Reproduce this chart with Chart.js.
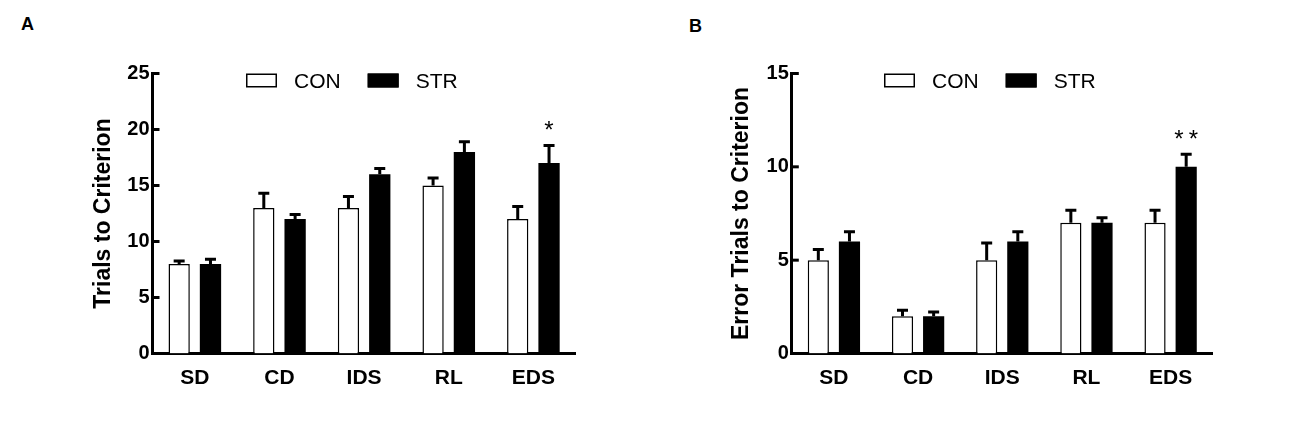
<!DOCTYPE html>
<html>
<head>
<meta charset="utf-8">
<script src="https://cdn.jsdelivr.net/npm/chart.js@4.4.1/dist/chart.umd.min.js"></script>
<style>
  html, body { margin: 0; padding: 0; background: #fff; }
  body { width: 1300px; height: 428px; position: relative; overflow: hidden; }
  .panel { position: absolute; top: 0; width: 650px; height: 428px; }
  .tag { position: absolute; font: bold 18px "Liberation Sans", Arial, sans-serif; color: #000; }
</style>
</head>
<body>
<div class="tag" style="left:21px;top:14px;">A</div>
<div class="tag" style="left:689px;top:16px;">B</div>
<div class="panel" style="left:0px;"><canvas id="chartA"></canvas></div>
<div class="panel" style="left:650px;"><canvas id="chartB"></canvas></div>
<script>
const categories = ['SD', 'CD', 'IDS', 'RL', 'EDS'];
const seriesNames = ['CON', 'STR'];

// panel A: trials to criterion
const trialsCon = [8, 13, 13, 15, 12];
const trialsConErr = [0.4, 1.45, 1.15, 0.8, 1.25];
const trialsStr = [8, 12, 16, 18, 17];
const trialsStrErr = [0.55, 0.55, 0.65, 1.05, 1.7];
const trialsStars = ['', '', '', '', '*'];
const trialsTicks = [0, 5, 10, 15, 20, 25];

// panel B: error trials to criterion
const errorsCon = [5, 2, 5, 7, 7];
const errorsConErr = [0.65, 0.4, 1.0, 0.75, 0.75];
const errorsStr = [6, 2, 6, 7, 10];
const errorsStrErr = [0.6, 0.3, 0.6, 0.35, 0.75];
const errorsStars = ['', '', '', '', '**'];
const errorsTicks = [0, 5, 10, 15];

const FONT = '"Liberation Sans", Arial, Helvetica, sans-serif';

// upper error bars + significance stars
const errorBars = {
    id: 'errorBars',
    afterDatasetsDraw(chart) {
        const ctx = chart.ctx;
        const y = chart.scales.y;
        ctx.save();
        chart.data.datasets.forEach((ds, i) => {
            const meta = chart.getDatasetMeta(i);
            meta.data.forEach((bar, j) => {
                const top = y.getPixelForValue(ds.data[j] + ds.errors[j]);
                ctx.strokeStyle = '#000';
                ctx.lineWidth = 3;
                ctx.beginPath();
                ctx.moveTo(bar.x, bar.y);
                ctx.lineTo(bar.x, top);
                ctx.moveTo(bar.x - 5.5, top + 1.5);
                ctx.lineTo(bar.x + 5.5, top + 1.5);
                ctx.stroke();
                const star = ds.stars ? ds.stars[j] : '';
                if (star) {
                    ctx.fillStyle = '#000';
                    ctx.font = '24px ' + FONT;
                    ctx.textAlign = 'center';
                    ctx.textBaseline = 'alphabetic';
                    ctx.letterSpacing = star.length > 1 ? '5px' : '0px';
                    const shift = star.length > 1 ? 2.5 : 0;
                    ctx.fillText(star, bar.x + shift, top - 6);
                    ctx.letterSpacing = '0px';
                }
            });
        });
        ctx.restore();
    }
};

// inward tick marks on the y axis
const innerTicks = {
    id: 'innerTicks',
    afterDraw(chart) {
        const ctx = chart.ctx;
        const y = chart.scales.y;
        const left = chart.chartArea.left;
        ctx.save();
        ctx.strokeStyle = '#000';
        ctx.lineWidth = 3;
        y.ticks.forEach(t => {
            const py = y.getPixelForValue(t.value);
            ctx.beginPath();
            ctx.moveTo(left, py);
            ctx.lineTo(left + 7, py);
            ctx.stroke();
        });
        ctx.restore();
    }
};

// legend drawn inside the plot area
const boxLegend = {
    id: 'boxLegend',
    afterDraw(chart, args, opts) {
        const ctx = chart.ctx;
        let x = chart.chartArea.left + opts.offsetX;
        const y = opts.y;
        ctx.save();
        ctx.font = '21px ' + FONT;
        ctx.textAlign = 'left';
        ctx.textBaseline = 'alphabetic';
        chart.data.datasets.forEach(ds => {
            ctx.fillStyle = ds.backgroundColor;
            ctx.fillRect(x, y, 31, 14);
            ctx.strokeStyle = '#000';
            ctx.lineWidth = 1.5;
            ctx.strokeRect(x + 0.75, y + 0.75, 29.5, 12.5);
            x += 31 + 17;
            ctx.fillStyle = '#000';
            ctx.fillText(ds.label, x, y + 14.5);
            x += ctx.measureText(ds.label).width + 27;
        });
        ctx.restore();
    }
};

function makeChart(id, con, conErr, str, strErr, stars, ticks, title, layout) {
    const ctx = document.getElementById(id).getContext('2d');
    return new Chart(ctx, {
        type: 'bar',
        data: {
            labels: categories,
            datasets: [
                {
                    label: seriesNames[0],
                    data: con,
                    errors: conErr,
                    backgroundColor: '#ffffff',
                    borderColor: '#000000',
                    borderWidth: 1.5,
                    borderSkipped: 'start'
                },
                {
                    label: seriesNames[1],
                    data: str,
                    errors: strErr,
                    stars: stars,
                    backgroundColor: '#000000',
                    borderColor: '#000000',
                    borderWidth: 0
                }
            ]
        },
        options: {
            responsive: true,
            maintainAspectRatio: false,
            animation: false,
            categoryPercentage: 0.74,
            barPercentage: 0.68,
            layout: {
                padding: { left: 0, right: layout.right, top: 73.5, bottom: 34.5 }
            },
            plugins: {
                legend: { display: false },
                tooltip: { enabled: false },
                boxLegend: { offsetX: layout.legendX, y: 73.5 }
            },
            scales: {
                x: {
                    grid: { display: false, drawTicks: false },
                    border: { display: true, color: '#000', width: 3 },
                    ticks: {
                        color: '#000',
                        padding: 12,
                        font: { family: FONT, size: 21, weight: 'bold' }
                    },
                    afterFit(scale) { scale.height = 40; }
                },
                y: {
                    min: ticks[0],
                    max: ticks[ticks.length - 1],
                    grid: { display: false, drawTicks: false },
                    border: { display: true, color: '#000', width: 3 },
                    afterBuildTicks(scale) {
                        scale.ticks = ticks.map(v => ({ value: v }));
                    },
                    ticks: {
                        color: '#000',
                        padding: 3,
                        font: { family: FONT, size: 20, weight: 'bold' }
                    },
                    title: {
                        display: true,
                        text: title,
                        color: '#000',
                        padding: { top: layout.titlePad, bottom: 0 },
                        font: { family: FONT, size: 23, weight: 'bold' }
                    },
                    afterFit(scale) { scale.width = layout.left; }
                }
            }
        },
        plugins: [errorBars, innerTicks, boxLegend]
    });
}

makeChart('chartA', trialsCon, trialsConErr, trialsStr, trialsStrErr, trialsStars, trialsTicks,
    'Trials to Criterion', { left: 152.5, right: 74.3, titlePad: 90, legendX: 93.5 });
makeChart('chartB', errorsCon, errorsConErr, errorsStr, errorsStrErr, errorsStars, errorsTicks,
    'Error Trials to Criterion', { left: 141.8, right: 87.3, titlePad: 78, legendX: 92.2 });
</script>
</body>
</html>
